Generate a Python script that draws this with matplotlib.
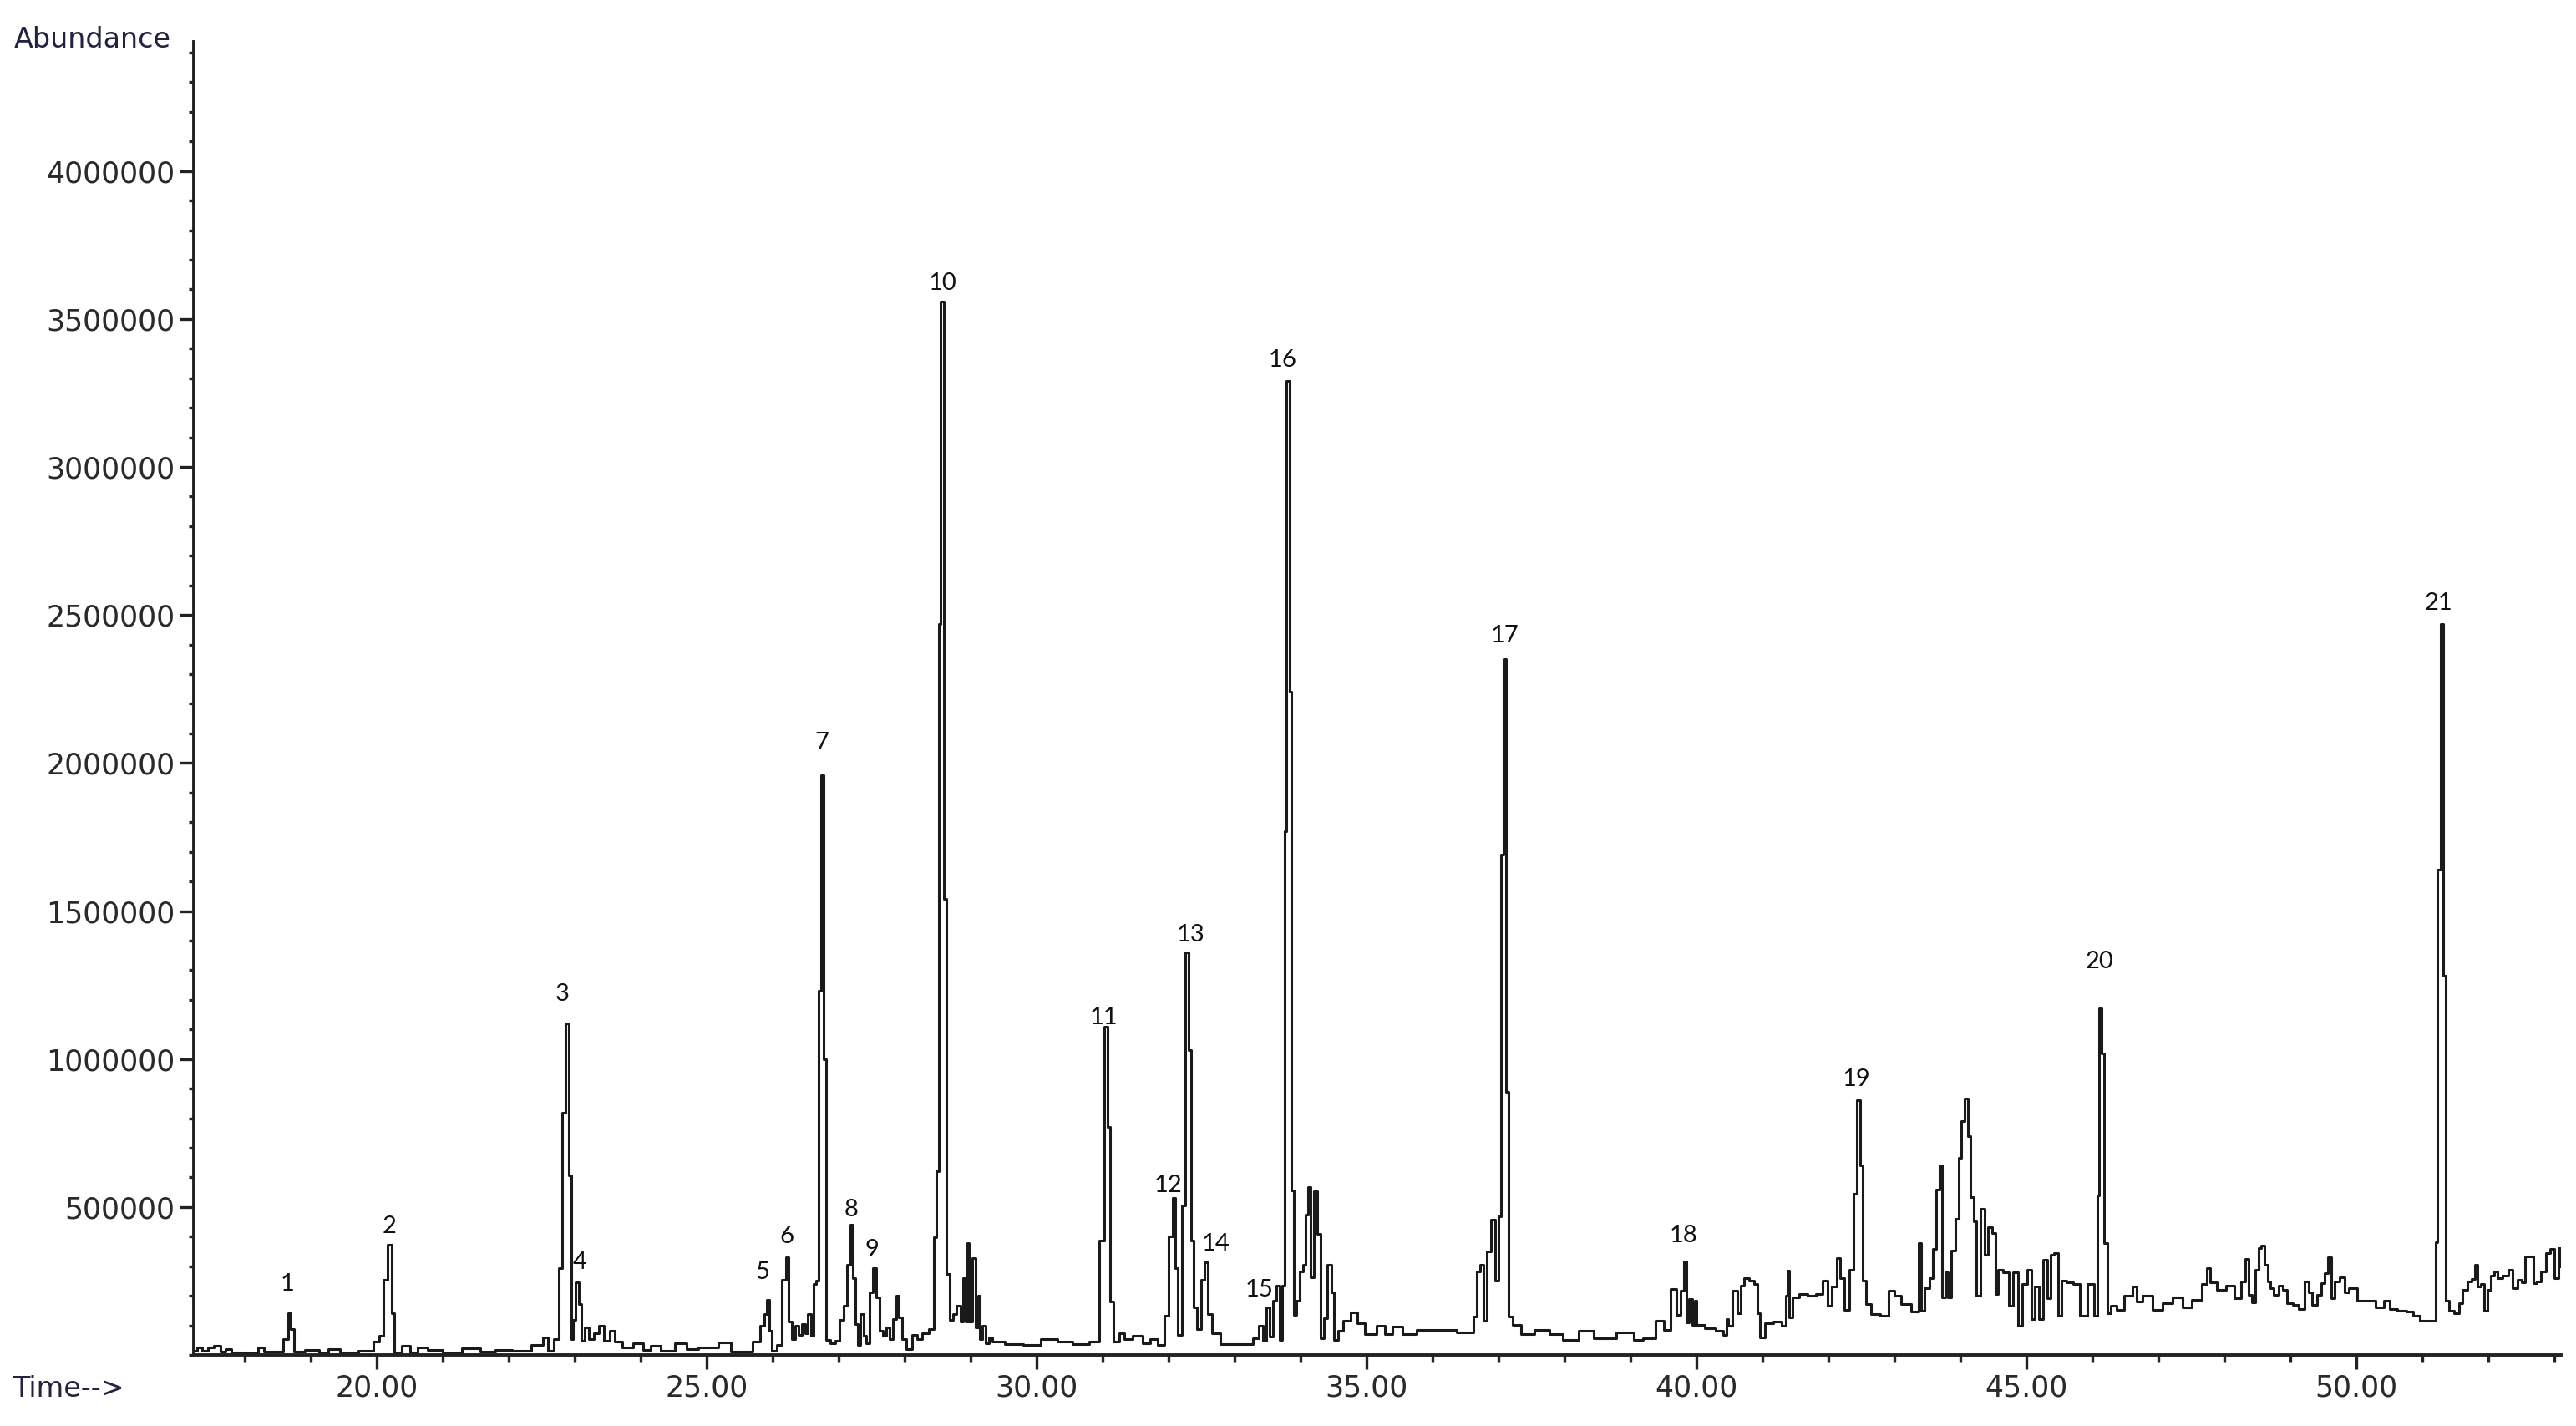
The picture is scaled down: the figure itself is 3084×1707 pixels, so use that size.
import matplotlib
matplotlib.use("Agg")
import matplotlib.pyplot as plt
from matplotlib.ticker import MultipleLocator, FuncFormatter

# total ion chromatogram
# retention time (min) and abundance (thousands of counts)
rt_min = [
    17.25, 17.32, 17.40, 17.48, 17.60, 17.68, 17.75, 17.85, 18.15, 18.25, 18.35, 18.55,
    18.63, 18.68, 18.73, 18.78, 19.05, 19.20, 19.35, 19.55, 19.90, 20.00, 20.08, 20.14,
    20.20, 20.25, 20.29, 20.48, 20.55, 20.70, 20.85, 21.15, 21.45, 21.70, 21.90, 22.20,
    22.50, 22.55, 22.65, 22.73, 22.79, 22.84, 22.89, 22.94, 22.96, 23.00, 23.04, 23.08,
    23.13, 23.18, 23.25, 23.34, 23.40, 23.48, 23.58, 23.65, 23.80, 23.98, 24.10, 24.20,
    24.40, 24.65, 24.75, 25.00,
    # 25 - 32.7
    25.35, 25.40, 25.62, 25.77, 25.85, 25.90, 25.93, 25.97, 26.02, 26.12, 26.17, 26.23,
    26.26, 26.32, 26.37, 26.42, 26.47, 26.51, 26.56, 26.60, 26.65, 26.68, 26.71, 26.75,
    26.79, 26.83, 26.92, 26.97, 27.05, 27.10, 27.15, 27.21, 27.23, 27.27, 27.31, 27.36,
    27.40, 27.45, 27.48, 27.55, 27.60, 27.65, 27.70, 27.75, 27.80, 27.85, 27.89, 27.94,
    27.98, 28.07, 28.15, 28.22, 28.32, 28.42, 28.47, 28.50, 28.53, 28.57, 28.61, 28.65,
    28.72, 28.76, 28.82, 28.87, 28.90, 28.95, 28.96, 29.00, 29.06, 29.10, 29.12, 29.16,
    29.20, 29.25, 29.30, 29.37, 29.67, 29.92, 30.22, 30.42, 30.67, 30.92, 30.99, 31.06,
    31.10, 31.13, 31.20, 31.30, 31.37, 31.55, 31.67, 31.77, 31.90, 31.97, 32.03, 32.09,
    32.12, 32.17, 32.23, 32.28, 32.32, 32.37, 32.40, 32.47, 32.52, 32.58, 32.62, 32.69,
    # 32.7 - 40.4
    32.88, 33.23, 33.33, 33.41, 33.46, 33.51, 33.56, 33.61, 33.66, 33.71, 33.74, 33.77,
    33.81, 33.85, 33.88, 33.91, 33.96, 34.01, 34.06, 34.09, 34.13, 34.18, 34.23, 34.28,
    34.33, 34.38, 34.44, 34.49, 34.53, 34.60, 34.68, 34.83, 34.88, 35.08, 35.23, 35.33,
    35.45, 35.63, 35.88, 36.13, 36.60, 36.65, 36.70, 36.75, 36.80, 36.85, 36.92, 36.97,
    37.02, 37.05, 37.09, 37.13, 37.17, 37.26, 37.43, 37.66, 37.88, 38.06, 38.36, 38.53,
    39.03, 39.08, 39.30, 39.46, 39.56, 39.66, 39.73, 39.78, 39.83, 39.87, 39.91, 39.96,
    39.98, 40.03, 40.23,
    # 40.4 - 48.1
    40.36, 40.44, 40.46, 40.51, 40.59, 40.64, 40.69, 40.76, 40.84, 40.90, 40.94, 40.99,
    41.09, 41.24, 41.34, 41.36, 41.40, 41.42, 41.49, 41.61, 41.76, 41.86, 41.96, 42.01,
    42.09, 42.15, 42.21, 42.26, 42.36, 42.40, 42.46, 42.50, 42.54, 42.59, 42.71, 42.86,
    42.96, 43.03, 43.16, 43.35, 43.39, 43.42, 43.49, 43.56, 43.61, 43.66, 43.70, 43.74,
    43.79, 43.84, 43.89, 43.95, 43.99, 44.04, 44.09, 44.14, 44.17, 44.22, 44.27, 44.34,
    44.39, 44.44, 44.51, 44.54, 44.59, 44.71, 44.76, 44.84, 44.91, 44.97, 45.04, 45.10,
    45.16, 45.21, 45.29, 45.34, 45.39, 45.45, 45.50, 45.56, 45.66, 45.76, 45.86, 45.99,
    46.06, 46.09, 46.12, 46.16, 46.19, 46.25, 46.31, 46.41, 46.56, 46.64, 46.71, 46.81,
    47.01, 47.11, 47.31, 47.41, 47.61, 47.71, 47.75, 47.81, 47.96, 48.09,
    # 48.2 - end
    48.20, 48.29, 48.34, 48.39, 48.45, 48.49, 48.54, 48.58, 48.63, 48.67, 48.73, 48.77,
    48.86, 48.92, 48.98, 49.09, 49.17, 49.26, 49.30, 49.36, 49.45, 49.49, 49.54, 49.60,
    49.64, 49.70, 49.79, 49.85, 49.93, 50.10, 50.23, 50.36, 50.48, 50.54, 50.69, 50.82,
    50.90, 51.03, 51.18, 51.21, 51.25, 51.30, 51.34, 51.37, 51.43, 51.52, 51.58, 51.64,
    51.71, 51.77, 51.81, 51.85, 51.92, 51.96, 52.02, 52.06, 52.11, 52.17, 52.25, 52.34,
    52.40, 52.49, 52.53, 52.59, 52.65, 52.70, 52.76, 52.84, 52.91, 52.97, 53.03, 53.08,
    53.10,
]
abund_k = [
    15, 24, 14, 26, 32, 12, 20, 8, 5, 25, 12, 12,
    54, 142, 88, 12, 16, 8, 20, 8, 15, 44, 64, 255,
    372, 142, 8, 32, 8, 26, 18, 5, 22, 10, 18, 14,
    34, 59, 14, 54, 294, 818, 1120, 608, 54, 118, 245, 171,
    49, 93, 54, 73, 98, 49, 83, 44, 25, 39, 17, 32,
    15, 39, 20, 25,
    42, 10, 10, 44, 98, 137, 186, 83, 15, 34, 255, 330,
    113, 54, 98, 69, 103, 74, 137, 64, 240, 250, 1230, 1960,
    1000, 50, 39, 49, 118, 167, 304, 440, 260, 103, 34, 137,
    64, 39, 211, 294, 196, 83, 64, 93, 54, 122, 201, 127,
    54, 20, 69, 54, 74, 88, 397, 620, 2470, 3560, 1540, 274,
    118, 137, 167, 113, 260, 113, 377, 113, 328, 93, 201, 54,
    98, 39, 59, 44, 36, 34, 54, 44, 36, 44, 387, 1110,
    770, 181, 44, 73, 54, 64, 39, 54, 34, 132, 400, 530,
    294, 69, 505, 1360, 1030, 387, 162, 88, 255, 314, 137, 74,
    37, 37, 57, 98, 47, 160, 62, 184, 233, 52, 233, 1770,
    3290, 2240, 557, 135, 184, 282, 306, 473, 566, 263, 552, 410,
    57, 125, 306, 213, 52, 81, 115, 145, 106, 71, 100, 71,
    96, 71, 86, 86, 76, 130, 282, 306, 115, 350, 458, 250,
    468, 1690, 2350, 890, 130, 101, 71, 86, 71, 52, 81, 57,
    76, 52, 57, 115, 86, 223, 135, 218, 316, 110, 189, 101,
    184, 101, 91,
    83, 69, 122, 98, 216, 142, 235, 260, 250, 240, 142, 59,
    108, 113, 98, 201, 284, 127, 196, 206, 201, 206, 250, 167,
    230, 328, 260, 152, 289, 544, 860, 642, 250, 172, 137, 132,
    216, 201, 172, 147, 377, 150, 225, 260, 358, 559, 642, 196,
    280, 196, 353, 461, 666, 789, 867, 740, 534, 451, 201, 495,
    338, 431, 412, 206, 289, 280, 167, 280, 98, 240, 289, 122,
    230, 122, 323, 191, 338, 343, 132, 250, 245, 240, 132, 240,
    132, 539, 1170, 1020, 377, 142, 167, 152, 201, 230, 181, 201,
    152, 176, 196, 162, 186, 240, 294, 245, 220, 235,
    193, 248, 324, 202, 179, 287, 361, 371, 306, 249, 226, 202,
    235, 221, 174, 169, 155, 249, 211, 169, 202, 244, 277, 329,
    193, 249, 263, 211, 226, 183, 183, 160, 183, 155, 150, 146,
    132, 117, 117, 381, 1640, 2470, 1280, 184, 150, 141, 174, 221,
    249, 258, 306, 230, 240, 150, 221, 268, 282, 259, 268, 287,
    226, 254, 245, 334, 334, 244, 249, 282, 343, 357, 259, 362,
    300,
]

# peak numbers and where their labels sit
peak_ids = [str(i) for i in range(1, 22)]
label_rt = [18.65, 20.19, 22.81, 23.08, 25.85, 26.22, 26.74, 27.19, 27.51, 28.58, 31.02,
            32.00, 32.34, 32.71, 33.37, 33.73, 37.09, 39.80, 42.42, 46.10, 51.25]
label_k = [240, 435, 1220, 312, 280, 402, 2070, 492, 356, 3620, 1140,
           572, 1420, 375, 219, 3360, 2430, 404, 930, 1330, 2540]

y_ticks = [500000, 1000000, 1500000, 2000000, 2500000, 3000000, 3500000, 4000000]
x_ticks = [20, 25, 30, 35, 40, 45, 50]

fig = plt.figure(figsize=(15.42, 8.535), dpi=200)
ax = fig.add_axes([0.0752, 0.0498, 0.919, 0.921])

abund = [v * 1000 for v in abund_k]
# the instrument trace looks stepped, so draw it as steps
ax.plot(rt_min, abund, color="#1a1a1a", lw=1.1, drawstyle="steps-mid")

ax.set_xlim(17.23, 53.1)
ax.set_ylim(0, 4437000)

for s in ["top", "right"]:
    ax.spines[s].set_visible(False)
for s in ["left", "bottom"]:
    ax.spines[s].set_linewidth(1.4)
    ax.spines[s].set_color("#222222")

ax.set_yticks(y_ticks)
ax.yaxis.set_major_formatter(FuncFormatter(lambda v, p: "%d" % v))
ax.yaxis.set_minor_locator(MultipleLocator(100000))
ax.set_xticks(x_ticks)
ax.xaxis.set_major_formatter(FuncFormatter(lambda v, p: "%.2f" % v))
ax.xaxis.set_minor_locator(MultipleLocator(1))

ax.tick_params(axis="both", which="major", direction="out", length=6, width=1.2,
               color="#222222", labelsize=12.5, labelcolor="#2a2a2a", pad=2)
ax.tick_params(axis="both", which="minor", direction="out", length=3, width=1.2,
               color="#222222")
ax.tick_params(axis="y", which="minor", length=2)

for n, t, k in zip(peak_ids, label_rt, label_k):
    ax.text(t, k * 1000, n, ha="center", va="center", fontsize=10.5,
            family=["Lato", "DejaVu Sans"], color="#111111")

fig.text(0.0055, 0.972, "Abundance", ha="left", va="center", fontsize=12,
         color="#23233f")
fig.text(0.005, 0.026, "Time-->", ha="left", va="center", fontsize=12,
         color="#23233f")

fig.savefig("out.png", dpi=200, facecolor="white")
